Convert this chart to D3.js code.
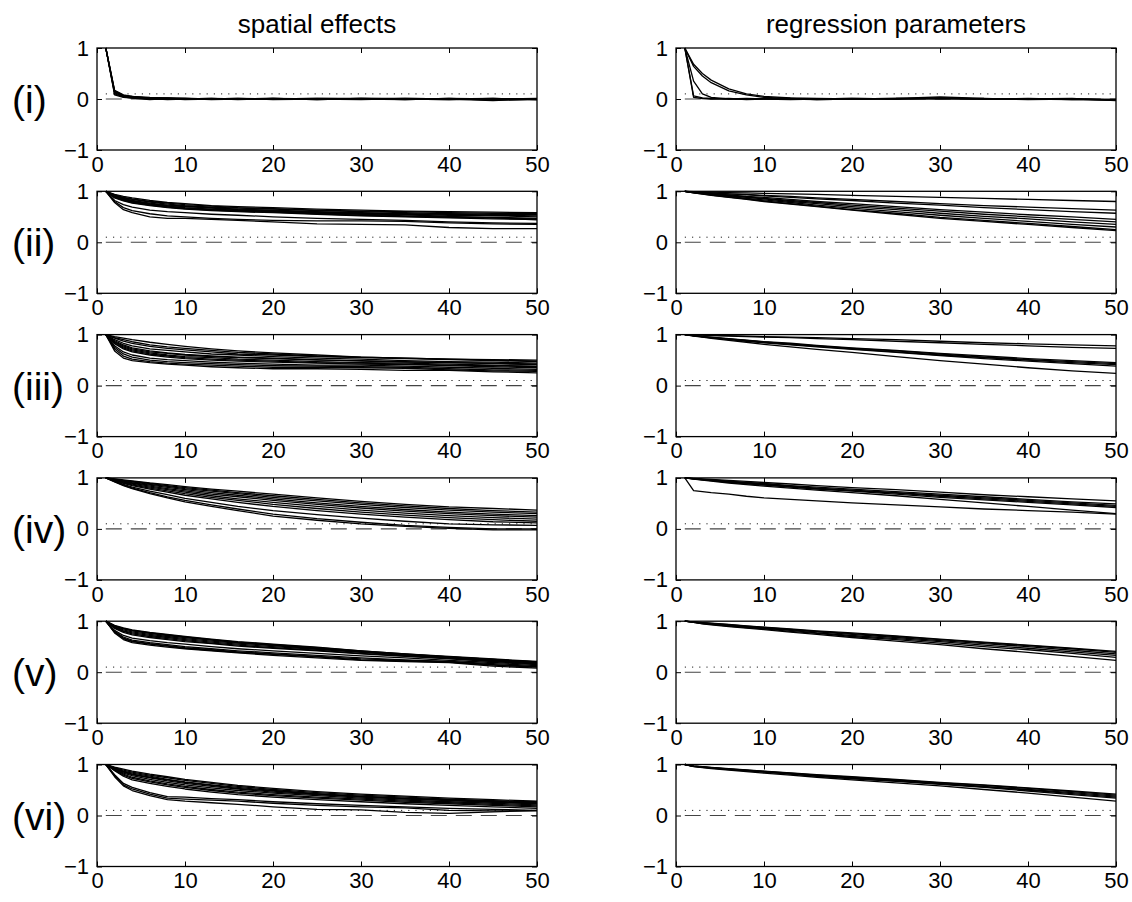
<!DOCTYPE html>
<html>
<head>
<meta charset="utf-8">
<script src="https://cdn.jsdelivr.net/npm/d3@7"></script>
<style>
  body { margin: 0; background: #fff; }
  svg { display: block; }
  text { font-family: "Liberation Sans", Arial, sans-serif; fill: #000; }
</style>
</head>
<body>
<div id="chart"></div>
<script>
const lags = [1, 2, 3, 4, 6, 8, 10, 13, 16, 20, 25, 30, 35, 40, 45, 50];

const rowLabels = ["(i)", "(ii)", "(iii)", "(iv)", "(v)", "(vi)"];
const columnTitles = ["spatial effects", "regression parameters"];
const xTicks = [0, 10, 20, 30, 40, 50];
const yTicks = [-1, 0, 1];
const bandLevel = 0.1;

// ---- spatial effects ----
const spatialI = [
  [1, 0.16, 0.07, 0.04, 0.02, 0.01, 0, 0.01, -0.01, 0.01, 0, -0.01, 0.01, 0, -0.03, 0],
  [1, 0.14, 0.06, 0.05, 0.01, 0.02, 0.01, -0.01, 0, 0, 0.01, 0.01, -0.01, 0.01, -0.02, -0.01],
  [1, 0.12, 0.05, 0.03, 0, 0, 0.01, 0, 0.01, -0.01, 0, 0, 0, -0.01, 0, 0.01],
  [1, 0.1, 0.04, 0.02, 0.01, -0.01, 0, 0.01, 0, 0.01, -0.01, 0.01, 0.01, 0, 0.01, -0.01],
  [1, 0.08, 0.03, 0.02, -0.01, 0.01, -0.01, 0, 0.01, 0, 0.01, 0, -0.01, 0.01, 0, 0],
  [1, 0.17, 0.08, 0.05, 0.03, 0.02, 0.01, 0, 0, 0.01, -0.01, 0.01, 0, -0.01, 0.01, -0.01]
];
const spatialII = [
  [1, 0.94, 0.9, 0.87, 0.82, 0.78, 0.76, 0.72, 0.7, 0.68, 0.65, 0.63, 0.61, 0.6, 0.59, 0.58],
  [1, 0.93, 0.88, 0.85, 0.8, 0.77, 0.74, 0.71, 0.68, 0.66, 0.63, 0.61, 0.6, 0.58, 0.57, 0.56],
  [1, 0.92, 0.87, 0.84, 0.79, 0.75, 0.72, 0.69, 0.67, 0.65, 0.62, 0.6, 0.58, 0.56, 0.55, 0.54],
  [1, 0.91, 0.86, 0.82, 0.77, 0.73, 0.71, 0.68, 0.65, 0.63, 0.6, 0.58, 0.56, 0.55, 0.53, 0.52],
  [1, 0.9, 0.85, 0.81, 0.76, 0.72, 0.7, 0.67, 0.64, 0.62, 0.59, 0.57, 0.55, 0.53, 0.52, 0.5],
  [1, 0.89, 0.83, 0.79, 0.74, 0.7, 0.67, 0.64, 0.62, 0.6, 0.57, 0.55, 0.52, 0.5, 0.49, 0.47],
  [1, 0.88, 0.82, 0.78, 0.73, 0.69, 0.66, 0.63, 0.61, 0.59, 0.56, 0.53, 0.51, 0.49, 0.48, 0.46],
  [1, 0.87, 0.81, 0.77, 0.72, 0.68, 0.65, 0.62, 0.6, 0.58, 0.55, 0.52, 0.5, 0.48, 0.46, 0.45],
  [1, 0.9, 0.84, 0.8, 0.75, 0.71, 0.68, 0.65, 0.63, 0.61, 0.58, 0.56, 0.54, 0.51, 0.48, 0.44],
  [1, 0.82, 0.74, 0.69, 0.63, 0.6, 0.58, 0.55, 0.53, 0.5, 0.47, 0.45, 0.43, 0.4, 0.38, 0.37],
  [1, 0.8, 0.68, 0.62, 0.56, 0.52, 0.5, 0.47, 0.45, 0.43, 0.42, 0.42, 0.41, 0.38, 0.36, 0.35],
  [1, 0.78, 0.64, 0.58, 0.5, 0.47, 0.47, 0.45, 0.43, 0.4, 0.36, 0.35, 0.34, 0.29, 0.27, 0.27]
];
const spatialIII = [
  [1, 0.96, 0.93, 0.9, 0.85, 0.81, 0.77, 0.72, 0.68, 0.64, 0.6, 0.56, 0.54, 0.52, 0.51, 0.5],
  [1, 0.94, 0.9, 0.86, 0.8, 0.76, 0.73, 0.69, 0.65, 0.62, 0.58, 0.56, 0.54, 0.52, 0.5, 0.48],
  [1, 0.93, 0.87, 0.83, 0.77, 0.73, 0.7, 0.66, 0.62, 0.6, 0.57, 0.55, 0.53, 0.51, 0.49, 0.47],
  [1, 0.9, 0.83, 0.78, 0.72, 0.69, 0.66, 0.62, 0.6, 0.57, 0.54, 0.52, 0.49, 0.47, 0.46, 0.44],
  [1, 0.88, 0.8, 0.74, 0.68, 0.64, 0.61, 0.58, 0.56, 0.54, 0.51, 0.48, 0.46, 0.45, 0.43, 0.41],
  [1, 0.86, 0.78, 0.72, 0.66, 0.63, 0.6, 0.57, 0.55, 0.53, 0.5, 0.49, 0.47, 0.45, 0.44, 0.42],
  [1, 0.85, 0.76, 0.7, 0.64, 0.6, 0.57, 0.55, 0.52, 0.5, 0.47, 0.45, 0.44, 0.42, 0.4, 0.38],
  [1, 0.83, 0.74, 0.68, 0.62, 0.58, 0.55, 0.52, 0.5, 0.48, 0.45, 0.44, 0.42, 0.4, 0.39, 0.37],
  [1, 0.82, 0.72, 0.66, 0.6, 0.56, 0.53, 0.5, 0.48, 0.46, 0.44, 0.42, 0.41, 0.39, 0.37, 0.35],
  [1, 0.78, 0.66, 0.6, 0.54, 0.51, 0.49, 0.46, 0.44, 0.42, 0.4, 0.4, 0.38, 0.36, 0.34, 0.32],
  [1, 0.75, 0.62, 0.56, 0.5, 0.47, 0.45, 0.43, 0.41, 0.39, 0.38, 0.37, 0.36, 0.33, 0.31, 0.3],
  [1, 0.72, 0.58, 0.52, 0.47, 0.44, 0.42, 0.4, 0.38, 0.36, 0.36, 0.35, 0.34, 0.31, 0.29, 0.28],
  [1, 0.68, 0.54, 0.49, 0.45, 0.42, 0.4, 0.37, 0.35, 0.33, 0.33, 0.32, 0.3, 0.3, 0.27, 0.25]
];
const spatialIV = [
  [1, 0.98, 0.96, 0.94, 0.9, 0.87, 0.83, 0.78, 0.74, 0.68, 0.61, 0.54, 0.48, 0.43, 0.4, 0.37],
  [1, 0.975, 0.95, 0.93, 0.89, 0.85, 0.81, 0.76, 0.71, 0.65, 0.58, 0.51, 0.45, 0.4, 0.36, 0.33],
  [1, 0.97, 0.945, 0.92, 0.875, 0.835, 0.79, 0.74, 0.69, 0.62, 0.55, 0.48, 0.42, 0.37, 0.33, 0.3],
  [1, 0.965, 0.935, 0.905, 0.86, 0.815, 0.77, 0.71, 0.66, 0.59, 0.51, 0.44, 0.38, 0.33, 0.29, 0.26],
  [1, 0.96, 0.925, 0.895, 0.84, 0.79, 0.745, 0.68, 0.63, 0.56, 0.48, 0.41, 0.35, 0.3, 0.26, 0.23],
  [1, 0.955, 0.915, 0.88, 0.82, 0.77, 0.72, 0.65, 0.59, 0.52, 0.44, 0.37, 0.31, 0.26, 0.22, 0.19],
  [1, 0.95, 0.905, 0.865, 0.8, 0.745, 0.69, 0.62, 0.56, 0.48, 0.4, 0.33, 0.27, 0.22, 0.18, 0.15],
  [1, 0.945, 0.895, 0.85, 0.78, 0.72, 0.66, 0.59, 0.52, 0.44, 0.36, 0.29, 0.23, 0.18, 0.14, 0.12],
  [1, 0.935, 0.875, 0.82, 0.74, 0.67, 0.6, 0.52, 0.44, 0.36, 0.28, 0.21, 0.15, 0.1, 0.08, 0.07],
  [1, 0.925, 0.86, 0.8, 0.71, 0.63, 0.56, 0.47, 0.39, 0.29, 0.2, 0.13, 0.07, 0.03, 0, 0],
  [1, 0.92, 0.85, 0.79, 0.69, 0.61, 0.53, 0.44, 0.36, 0.25, 0.17, 0.1, 0.05, 0.01, -0.02, -0.02]
];
const spatialV = [
  [1, 0.92, 0.87, 0.83, 0.78, 0.74, 0.7, 0.65, 0.6, 0.55, 0.49, 0.42, 0.36, 0.31, 0.26, 0.21],
  [1, 0.91, 0.86, 0.82, 0.77, 0.73, 0.69, 0.64, 0.59, 0.54, 0.48, 0.42, 0.36, 0.3, 0.25, 0.2],
  [1, 0.9, 0.85, 0.81, 0.76, 0.72, 0.68, 0.63, 0.58, 0.53, 0.47, 0.41, 0.35, 0.3, 0.25, 0.2],
  [1, 0.89, 0.83, 0.79, 0.74, 0.7, 0.66, 0.61, 0.57, 0.52, 0.46, 0.4, 0.34, 0.29, 0.24, 0.19],
  [1, 0.88, 0.81, 0.77, 0.72, 0.68, 0.64, 0.59, 0.55, 0.5, 0.45, 0.39, 0.33, 0.28, 0.23, 0.18],
  [1, 0.87, 0.8, 0.75, 0.7, 0.66, 0.62, 0.57, 0.53, 0.48, 0.43, 0.37, 0.32, 0.27, 0.22, 0.17],
  [1, 0.86, 0.78, 0.73, 0.68, 0.64, 0.6, 0.56, 0.51, 0.47, 0.42, 0.36, 0.31, 0.26, 0.21, 0.16],
  [1, 0.82, 0.72, 0.67, 0.62, 0.58, 0.55, 0.5, 0.46, 0.42, 0.37, 0.32, 0.28, 0.23, 0.19, 0.15],
  [1, 0.8, 0.69, 0.63, 0.58, 0.54, 0.5, 0.46, 0.42, 0.38, 0.33, 0.28, 0.24, 0.21, 0.17, 0.13],
  [1, 0.79, 0.67, 0.61, 0.56, 0.52, 0.48, 0.44, 0.4, 0.36, 0.31, 0.26, 0.23, 0.2, 0.15, 0.11],
  [1, 0.78, 0.66, 0.6, 0.55, 0.51, 0.47, 0.43, 0.39, 0.35, 0.3, 0.24, 0.22, 0.2, 0.14, 0.1],
  [1, 0.77, 0.64, 0.58, 0.53, 0.49, 0.46, 0.42, 0.38, 0.33, 0.28, 0.23, 0.21, 0.19, 0.12, 0.08]
];
const spatialVI = [
  [1, 0.95, 0.91, 0.87, 0.81, 0.76, 0.71, 0.65, 0.59, 0.53, 0.47, 0.42, 0.38, 0.34, 0.31, 0.28],
  [1, 0.94, 0.89, 0.85, 0.79, 0.74, 0.69, 0.63, 0.57, 0.51, 0.45, 0.4, 0.36, 0.32, 0.29, 0.27],
  [1, 0.93, 0.87, 0.83, 0.77, 0.71, 0.66, 0.6, 0.55, 0.49, 0.43, 0.38, 0.34, 0.31, 0.28, 0.25],
  [1, 0.925, 0.86, 0.81, 0.75, 0.7, 0.65, 0.59, 0.53, 0.48, 0.42, 0.37, 0.33, 0.3, 0.27, 0.24],
  [1, 0.92, 0.85, 0.8, 0.74, 0.68, 0.63, 0.57, 0.52, 0.46, 0.41, 0.36, 0.32, 0.29, 0.26, 0.23],
  [1, 0.91, 0.83, 0.78, 0.71, 0.65, 0.6, 0.54, 0.49, 0.44, 0.39, 0.34, 0.3, 0.27, 0.24, 0.21],
  [1, 0.9, 0.81, 0.75, 0.68, 0.62, 0.57, 0.51, 0.46, 0.41, 0.36, 0.32, 0.28, 0.25, 0.22, 0.19],
  [1, 0.89, 0.79, 0.73, 0.66, 0.6, 0.55, 0.49, 0.44, 0.39, 0.34, 0.3, 0.26, 0.23, 0.2, 0.17],
  [1, 0.88, 0.77, 0.7, 0.63, 0.57, 0.52, 0.46, 0.41, 0.36, 0.31, 0.27, 0.23, 0.2, 0.17, 0.14],
  [1, 0.8, 0.63, 0.55, 0.45, 0.37, 0.36, 0.33, 0.31, 0.27, 0.23, 0.2, 0.17, 0.14, 0.12, 0.1],
  [1, 0.78, 0.6, 0.52, 0.42, 0.34, 0.32, 0.3, 0.28, 0.24, 0.2, 0.17, 0.15, 0.1, 0.09, 0.09],
  [1, 0.76, 0.58, 0.49, 0.39, 0.31, 0.28, 0.25, 0.22, 0.17, 0.12, 0.11, 0.06, 0.04, 0.07, 0.1]
];

// ---- regression parameters ----
const regressionI = [
  [1, 0.03, 0.01, 0, 0.01, -0.01, 0, 0.01, -0.01, 0, 0.01, 0, 0.01, -0.01, 0, -0.02],
  [1, 0.06, 0.02, 0.01, 0, 0.01, 0, -0.01, 0, 0.01, 0, 0.02, 0, 0, 0.01, -0.03],
  [1, 0.35, 0.1, 0.03, 0, 0, 0.01, 0, -0.01, 0, 0.01, 0.01, 0, 0, -0.01, -0.01],
  [1, 0.68, 0.5, 0.37, 0.2, 0.1, 0.05, 0.02, 0.01, 0, 0.01, 0.04, 0.01, 0, 0, -0.02],
  [1, 0.64, 0.45, 0.32, 0.16, 0.08, 0.03, 0.01, 0, 0.01, 0, 0.02, 0, 0.01, -0.01, -0.01]
];
const regressionII = [
  [1, 0.995, 0.99, 0.985, 0.975, 0.97, 0.96, 0.95, 0.94, 0.92, 0.9, 0.88, 0.86, 0.84, 0.82, 0.8],
  [1, 0.99, 0.98, 0.97, 0.95, 0.94, 0.92, 0.9, 0.87, 0.84, 0.8, 0.76, 0.72, 0.69, 0.66, 0.63],
  [1, 0.99, 0.98, 0.97, 0.95, 0.93, 0.91, 0.88, 0.85, 0.82, 0.77, 0.73, 0.68, 0.64, 0.6, 0.57],
  [1, 0.985, 0.97, 0.955, 0.93, 0.9, 0.88, 0.84, 0.8, 0.76, 0.7, 0.64, 0.59, 0.54, 0.5, 0.45],
  [1, 0.98, 0.965, 0.95, 0.92, 0.89, 0.86, 0.82, 0.78, 0.73, 0.67, 0.61, 0.55, 0.5, 0.45, 0.4],
  [1, 0.98, 0.96, 0.94, 0.91, 0.88, 0.85, 0.8, 0.76, 0.7, 0.64, 0.57, 0.51, 0.46, 0.4, 0.35],
  [1, 0.975, 0.955, 0.935, 0.9, 0.86, 0.83, 0.78, 0.73, 0.67, 0.6, 0.53, 0.47, 0.41, 0.35, 0.3],
  [1, 0.97, 0.95, 0.925, 0.885, 0.85, 0.81, 0.76, 0.71, 0.64, 0.57, 0.49, 0.43, 0.37, 0.31, 0.25],
  [1, 0.97, 0.945, 0.92, 0.88, 0.84, 0.8, 0.75, 0.7, 0.63, 0.55, 0.47, 0.41, 0.35, 0.29, 0.23]
];
const regressionIII = [
  [1, 0.995, 0.99, 0.985, 0.98, 0.97, 0.96, 0.95, 0.94, 0.92, 0.9, 0.87, 0.84, 0.82, 0.8, 0.78],
  [1, 0.995, 0.99, 0.98, 0.97, 0.96, 0.95, 0.94, 0.92, 0.9, 0.87, 0.84, 0.81, 0.78, 0.75, 0.73],
  [1, 0.98, 0.96, 0.95, 0.92, 0.89, 0.86, 0.83, 0.79, 0.74, 0.69, 0.63, 0.58, 0.53, 0.49, 0.45],
  [1, 0.98, 0.96, 0.945, 0.915, 0.885, 0.855, 0.82, 0.78, 0.73, 0.68, 0.62, 0.56, 0.51, 0.47, 0.43],
  [1, 0.98, 0.96, 0.94, 0.91, 0.88, 0.85, 0.81, 0.77, 0.72, 0.66, 0.6, 0.55, 0.5, 0.45, 0.41],
  [1, 0.975, 0.955, 0.935, 0.9, 0.87, 0.84, 0.8, 0.76, 0.71, 0.65, 0.59, 0.53, 0.48, 0.43, 0.38],
  [1, 0.97, 0.95, 0.925, 0.885, 0.85, 0.81, 0.76, 0.71, 0.65, 0.57, 0.49, 0.42, 0.35, 0.29, 0.24]
];
const regressionIV = [
  [1, 0.99, 0.98, 0.97, 0.95, 0.93, 0.91, 0.88, 0.85, 0.81, 0.77, 0.72, 0.67, 0.63, 0.59, 0.55],
  [1, 0.985, 0.97, 0.96, 0.935, 0.91, 0.89, 0.85, 0.82, 0.78, 0.73, 0.68, 0.63, 0.58, 0.53, 0.49],
  [1, 0.985, 0.97, 0.955, 0.93, 0.9, 0.88, 0.84, 0.8, 0.76, 0.71, 0.66, 0.61, 0.56, 0.51, 0.46],
  [1, 0.98, 0.965, 0.95, 0.92, 0.895, 0.87, 0.83, 0.79, 0.75, 0.7, 0.64, 0.59, 0.54, 0.49, 0.44],
  [1, 0.98, 0.96, 0.945, 0.915, 0.885, 0.86, 0.82, 0.78, 0.74, 0.68, 0.62, 0.57, 0.52, 0.47, 0.42],
  [1, 0.975, 0.955, 0.935, 0.9, 0.87, 0.84, 0.8, 0.76, 0.71, 0.65, 0.58, 0.51, 0.44, 0.37, 0.3],
  [1, 0.75, 0.73, 0.71, 0.68, 0.64, 0.61, 0.58, 0.55, 0.51, 0.47, 0.43, 0.39, 0.36, 0.33, 0.29]
];
const regressionV = [
  [1, 0.985, 0.97, 0.96, 0.935, 0.91, 0.885, 0.85, 0.81, 0.77, 0.71, 0.65, 0.59, 0.53, 0.47, 0.41],
  [1, 0.985, 0.97, 0.955, 0.93, 0.905, 0.88, 0.84, 0.8, 0.755, 0.7, 0.64, 0.58, 0.52, 0.46, 0.39],
  [1, 0.98, 0.965, 0.95, 0.92, 0.895, 0.87, 0.83, 0.79, 0.74, 0.68, 0.62, 0.56, 0.5, 0.43, 0.36],
  [1, 0.98, 0.96, 0.945, 0.915, 0.885, 0.86, 0.82, 0.77, 0.72, 0.66, 0.6, 0.53, 0.47, 0.4, 0.33],
  [1, 0.975, 0.955, 0.94, 0.905, 0.875, 0.85, 0.8, 0.76, 0.7, 0.64, 0.57, 0.5, 0.44, 0.37, 0.29],
  [1, 0.975, 0.95, 0.93, 0.895, 0.865, 0.835, 0.785, 0.74, 0.68, 0.61, 0.54, 0.46, 0.39, 0.31, 0.23]
];
const regressionVI = [
  [1, 0.975, 0.96, 0.945, 0.92, 0.895, 0.87, 0.835, 0.8, 0.76, 0.71, 0.65, 0.6, 0.54, 0.48, 0.42],
  [1, 0.97, 0.955, 0.94, 0.915, 0.89, 0.865, 0.83, 0.79, 0.75, 0.7, 0.64, 0.59, 0.53, 0.47, 0.4],
  [1, 0.97, 0.955, 0.94, 0.91, 0.885, 0.86, 0.82, 0.78, 0.74, 0.69, 0.63, 0.57, 0.51, 0.45, 0.38],
  [1, 0.965, 0.95, 0.935, 0.905, 0.88, 0.855, 0.815, 0.775, 0.73, 0.68, 0.62, 0.56, 0.5, 0.43, 0.36],
  [1, 0.965, 0.945, 0.93, 0.9, 0.875, 0.85, 0.81, 0.77, 0.72, 0.67, 0.61, 0.55, 0.48, 0.41, 0.34],
  [1, 0.96, 0.94, 0.92, 0.89, 0.86, 0.83, 0.79, 0.75, 0.7, 0.64, 0.58, 0.51, 0.44, 0.36, 0.28]
];

const spatialRows = [spatialI, spatialII, spatialIII, spatialIV, spatialV, spatialVI];
const regressionRows = [regressionI, regressionII, regressionIII, regressionIV, regressionV, regressionVI];

// layout
const width = 1132;
const height = 902;
const colLeft = [97, 676];
const boxW = 440;
const boxH = 102;
const rowTop = i => 48 + i * 143.3;

const svg = d3.select("#chart")
    .append("svg")
    .attr("width", width)
    .attr("height", height);

const x = d3.scaleLinear().domain([0, 50]).range([0, boxW]);
const y = d3.scaleLinear().domain([-1, 1]).range([boxH, 0]);

const line = d3.line()
    .x((d, i) => x(lags[i]))
    .y(d => y(d));

const fmt = d => d < 0 ? "\u2212" + Math.abs(d) : String(d);

function drawPanel(series, col, row) {
    const g = svg.append("g")
        .attr("transform", `translate(${colLeft[col]},${rowTop(row)})`);

    // reference levels: zero (dashed) and band (dotted)
    g.append("line")
        .attr("x1", x(1)).attr("x2", x(50))
        .attr("y1", y(bandLevel)).attr("y2", y(bandLevel))
        .attr("stroke", "#222").attr("stroke-width", 1)
        .attr("stroke-dasharray", "1.2,6");
    g.append("line")
        .attr("x1", x(1)).attr("x2", x(50))
        .attr("y1", y(0)).attr("y2", y(0))
        .attr("stroke", "#444").attr("stroke-width", 1.1)
        .attr("stroke-dasharray", "16,9");

    g.selectAll(".series")
        .data(series)
        .enter()
        .append("path")
        .attr("class", "series")
        .attr("d", line)
        .attr("fill", "none")
        .attr("stroke", "#000")
        .attr("stroke-width", 1.3)
        .attr("stroke-linejoin", "round");

    // axes with inward ticks
    g.append("g")
        .attr("transform", `translate(0,${boxH})`)
        .call(d3.axisBottom(x).tickValues(xTicks).tickSizeInner(-5).tickSizeOuter(0).tickPadding(6).tickFormat(fmt));
    g.append("g")
        .call(d3.axisTop(x).tickValues(xTicks).tickSizeInner(-5).tickSizeOuter(0).tickFormat(""));
    g.append("g")
        .call(d3.axisLeft(y).tickValues(yTicks).tickSizeInner(-5).tickSizeOuter(0).tickPadding(8).tickFormat(fmt));
    g.append("g")
        .attr("transform", `translate(${boxW},0)`)
        .call(d3.axisRight(y).tickValues(yTicks).tickSizeInner(-5).tickSizeOuter(0).tickFormat(""));

    g.selectAll(".domain").remove();
    g.selectAll(".tick line").attr("stroke", "#000").attr("stroke-width", 1);
    g.selectAll(".tick text")
        .attr("font-size", 22)
        .attr("font-family", "'Liberation Sans', Arial, sans-serif")
        .attr("fill", "#000");

    g.append("rect")
        .attr("width", boxW).attr("height", boxH)
        .attr("fill", "none")
        .attr("stroke", "#000")
        .attr("stroke-width", 1.3);
}

spatialRows.forEach((s, i) => drawPanel(s, 0, i));
regressionRows.forEach((s, i) => drawPanel(s, 1, i));

// column titles
columnTitles.forEach((t, c) => {
    svg.append("text")
        .attr("x", colLeft[c] + boxW / 2)
        .attr("y", 33)
        .attr("text-anchor", "middle")
        .attr("font-size", 26)
        .text(t);
});

// row labels
rowLabels.forEach((t, i) => {
    svg.append("text")
        .attr("x", 12)
        .attr("y", rowTop(i) + y(0))
        .attr("dy", "0.36em")
        .attr("font-size", 39)
        .text(t);
});
</script>
</body>
</html>
